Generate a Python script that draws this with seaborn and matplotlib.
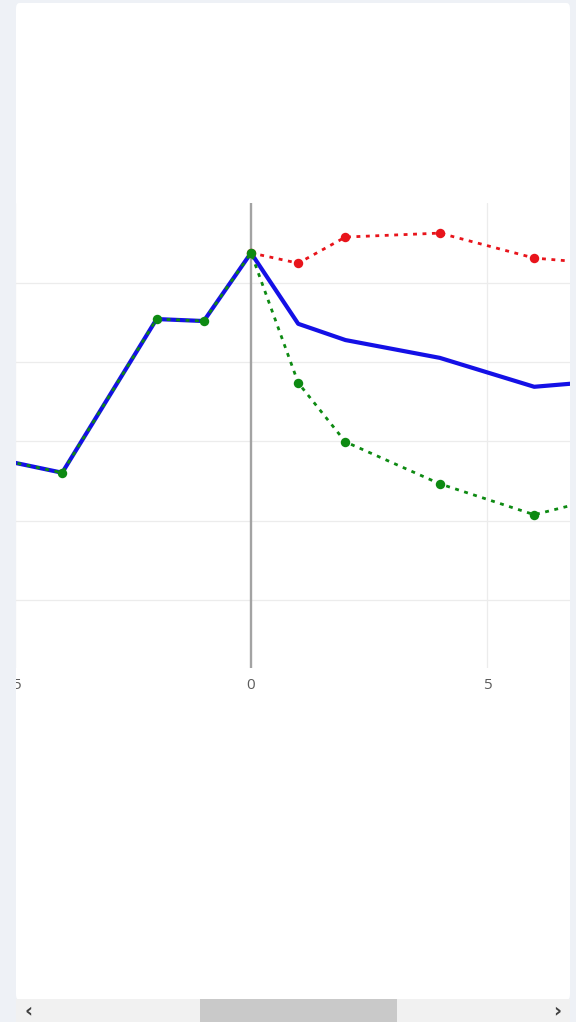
import matplotlib
matplotlib.use("Agg")
import matplotlib.pyplot as plt
from matplotlib.patches import FancyBboxPatch, Rectangle
import numpy as np
import pandas as pd
import seaborn as sns

# ---- data -------------------------------------------------------------
periods_pre = [-6, -4, -2, -1, 0]
values_pre = [0.571, 0.521, 0.909, 0.904, 1.076]

periods_post = [0, 1, 2, 4, 6, 8]
baseline_post = [1.076, 0.897, 0.856, 0.811, 0.738, 0.758]
upper_post = [1.076, 1.050, 1.116, 1.126, 1.063, 1.043]
lower_post = [1.076, 0.748, 0.599, 0.493, 0.415, 0.475]

x_ticks = [-5, 0, 5]
y_grid = [0.2, 0.4, 0.6, 0.8, 1.0]

# ---- styling ----------------------------------------------------------
sns.set_theme(style="white")
plt.rcParams["font.family"] = ["Open Sans", "DejaVu Sans"]

W, H = 576, 1022
BG = "#eef1f6"
fig = plt.figure(figsize=(W / 100, H / 100), dpi=100, facecolor=BG)


def fx(px):
    return px / W


def fy(py):
    return (H - py) / H


# white card behind everything
card = FancyBboxPatch((fx(16), fy(1000)), fx(570) - fx(16), fy(3) - fy(1000),
                      boxstyle="round,pad=0,rounding_size=0.006",
                      transform=fig.transFigure, facecolor="white",
                      edgecolor="none", zorder=-10)
fig.patches.append(card)

# plot area (wider than the card; the card clips its left part)
ax_left_px, ax_right_px = -40, 570
ax_top_px, ax_bot_px = 203, 668
ax = fig.add_axes([fx(ax_left_px), fy(ax_bot_px),
                   fx(ax_right_px) - fx(ax_left_px), fy(ax_top_px) - fy(ax_bot_px)])
ax.set_zorder(1)
ax.patch.set_visible(False)

px_per_unit = 47.2
x0_px = 251
ax.set_xlim((ax_left_px - x0_px) / px_per_unit, (ax_right_px - x0_px) / px_per_unit)
ax.set_ylim(0.028, 1.202)

for s in ax.spines.values():
    s.set_visible(False)

# grid
for yv in y_grid:
    ax.axhline(yv, color="#ececec", lw=0.9, zorder=0)
for xv in x_ticks:
    if xv == 0:
        ax.axvline(xv, color="#a3a3a3", lw=1.7, zorder=1)
    else:
        ax.axvline(xv, color="#ececec", lw=0.9, zorder=0)

pre = pd.DataFrame({"period": periods_pre, "value": values_pre})
post = pd.DataFrame({"period": periods_post, "base": baseline_post,
                     "upper": upper_post, "lower": lower_post})

base_all = pd.concat([pre.rename(columns={"value": "v"}),
                      post[["period", "base"]].rename(columns={"base": "v"}).iloc[1:]])
lower_all = pd.concat([pre.rename(columns={"value": "v"}),
                       post[["period", "lower"]].rename(columns={"lower": "v"}).iloc[1:]])

dot = (0, (1.4, 2.0))

sns.lineplot(data=base_all, x="period", y="v", ax=ax, color="#1410e6",
             linewidth=3.0, sort=False, zorder=3)
sns.lineplot(data=post, x="period", y="upper", ax=ax, color="#e8141b",
             linewidth=2.0, linestyle=dot, marker="o", markersize=6.8,
             markeredgewidth=0, sort=False, zorder=4)
sns.lineplot(data=lower_all, x="period", y="v", ax=ax, color="#0d8a12",
             linewidth=2.0, linestyle=dot, marker="o", markersize=6.8,
             markeredgewidth=0, sort=False, zorder=5)

ax.set_xticks(x_ticks)
ax.set_xticklabels([str(t) for t in x_ticks])
ax.set_yticks(y_grid)
ax.tick_params(axis="x", length=0, pad=7, labelsize=11, labelcolor="#5c5c5c")
ax.tick_params(axis="y", length=0, labelleft=False)
ax.set_xlabel("")
ax.set_ylabel("")
ax.grid(False)

# page margins on both sides of the card
for l_px, r_px in [(0, 16), (570, 576)]:
    cover = fig.add_axes([fx(l_px), 0, fx(r_px) - fx(l_px), 1])
    cover.set_facecolor(BG)
    cover.set_xticks([])
    cover.set_yticks([])
    for s in cover.spines.values():
        s.set_visible(False)
    cover.set_zorder(10)

# horizontal scroll bar
fig.patches.append(Rectangle((fx(16), fy(1022)), fx(570) - fx(16), fy(999) - fy(1022),
                             transform=fig.transFigure, facecolor="#f1f1f1",
                             edgecolor="none", zorder=2))
fig.patches.append(Rectangle((fx(200), fy(1022)), fx(397) - fx(200), fy(999) - fy(1022),
                             transform=fig.transFigure, facecolor="#c9c9c9",
                             edgecolor="none", zorder=3))
fig.text(fx(28), fy(1011), "\u2039", ha="center", va="center", fontsize=14,
         fontweight="bold", color="#404040", family=["DejaVu Sans"], zorder=4)
fig.text(fx(557), fy(1011), "\u203a", ha="center", va="center", fontsize=14,
         fontweight="bold", color="#404040", family=["DejaVu Sans"], zorder=4)

fig.savefig("out.png", dpi=100, facecolor=BG)
